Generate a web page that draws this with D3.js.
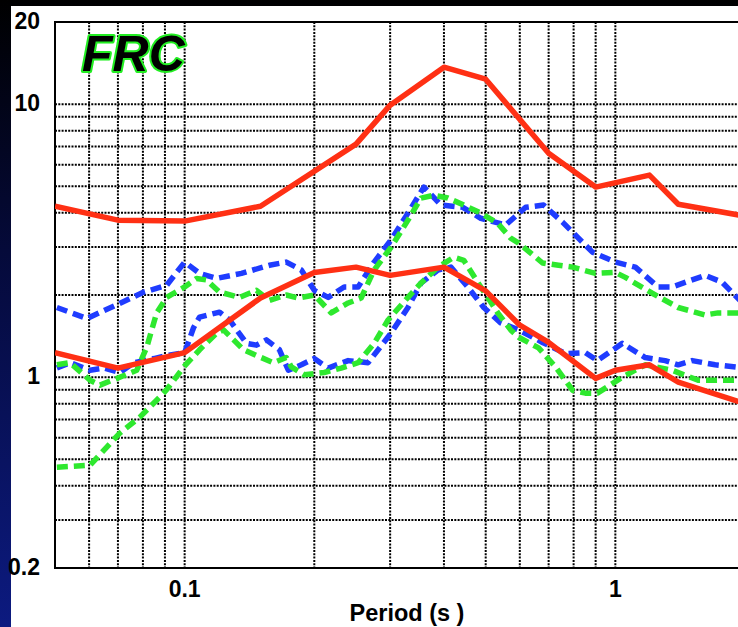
<!DOCTYPE html>
<html>
<head>
<meta charset="utf-8">
<script src="https://cdn.jsdelivr.net/npm/d3@7"></script>
<style>
  html, body { margin: 0; padding: 0; background: #000; }
  svg { display: block; }
</style>
</head>
<body>
<svg id="chart" width="738" height="627"></svg>
<script>
// ---------------- DATA ----------------
const titleText = "FRC";
const xAxisTitle = "Period (s )";
const xTickValues = [0.1, 1];
const xTickLabels = ["0.1", "1"];
const yTickValues = [20, 10, 1, 0.2];
const yTickLabels = ["20", "10", "1", "0.2"];
const xGridValues = [0.06, 0.07, 0.08, 0.09, 0.1, 0.2, 0.3, 0.4, 0.5, 0.6, 0.7, 0.8, 0.9, 1];
const yGridValues = [0.3, 0.4, 0.5, 0.6, 0.7, 0.8, 0.9, 1, 2, 3, 4, 5, 6, 7, 8, 9, 10];

const redUpperPeriod = [0.05, 0.07, 0.1, 0.15, 0.25, 0.3, 0.4, 0.5, 0.7, 0.9, 1.2, 1.4, 2.0];
const redUpperValue  = [4.23, 3.76, 3.73, 4.23, 7.14, 9.92, 13.66, 12.35, 6.61, 4.97, 5.50, 4.30, 3.89];

const redLowerPeriod = [0.05, 0.07, 0.1, 0.15, 0.2, 0.25, 0.3, 0.4, 0.5, 0.6, 0.7, 0.9, 1.0, 1.2, 1.4, 2.0];
const redLowerValue  = [1.23, 1.08, 1.23, 1.95, 2.42, 2.53, 2.36, 2.53, 2.07, 1.55, 1.34, 0.99, 1.06, 1.11, 0.96, 0.80];

const blueUpperPeriod = [0.0505, 0.0593, 0.07, 0.0804, 0.0908, 0.1, 0.1083, 0.1186, 0.1355, 0.1573, 0.1722, 0.1866, 0.2, 0.2154, 0.2346, 0.2528, 0.2754, 0.3014, 0.33, 0.3594, 0.3936, 0.4424, 0.487, 0.5566, 0.6191, 0.6813, 0.754, 0.8846, 1.0, 1.113, 1.257, 1.355, 1.616, 1.769, 2.0];
const blueUpperValue  = [1.80, 1.64, 1.85, 2.05, 2.17, 2.64, 2.40, 2.30, 2.40, 2.57, 2.64, 2.47, 2.08, 1.96, 2.14, 2.14, 2.64, 3.18, 3.99, 4.97, 4.27, 4.19, 3.82, 3.61, 4.19, 4.27, 3.70, 2.87, 2.64, 2.53, 2.14, 2.14, 2.36, 2.23, 1.83];

const blueLowerPeriod = [0.0505, 0.0542, 0.0603, 0.0649, 0.0707, 0.0762, 0.0848, 0.0908, 0.1, 0.1049, 0.1083, 0.1205, 0.1271, 0.1392, 0.1468, 0.1548, 0.166, 0.1741, 0.1866, 0.2, 0.2154, 0.2397, 0.2667, 0.3014, 0.33, 0.3537, 0.3873, 0.4151, 0.4544, 0.4948, 0.5419, 0.5965, 0.6776, 0.7662, 0.8522, 0.9086, 1.038, 1.173, 1.305, 1.399, 1.508, 1.705, 2.0];
const blueLowerValue  = [1.08, 1.13, 1.06, 1.08, 1.04, 1.13, 1.17, 1.20, 1.23, 1.52, 1.66, 1.73, 1.62, 1.33, 1.31, 1.37, 1.26, 1.06, 1.11, 1.17, 1.08, 1.15, 1.13, 1.45, 1.80, 2.21, 2.47, 2.53, 2.14, 1.80, 1.58, 1.49, 1.34, 1.22, 1.23, 1.15, 1.33, 1.18, 1.15, 1.11, 1.15, 1.11, 1.08];

const greenUpperPeriod = [0.0505, 0.0542, 0.0603, 0.0636, 0.0707, 0.0774, 0.0817, 0.0861, 0.0908, 0.1, 0.1066, 0.1124, 0.1205, 0.1341, 0.1468, 0.1573, 0.1722, 0.1836, 0.2, 0.2189, 0.2397, 0.2569, 0.2754, 0.3014, 0.33, 0.3537, 0.3791, 0.4085, 0.4447, 0.487, 0.5333, 0.5715, 0.5965, 0.6776, 0.7381, 0.7953, 0.899, 1.0, 1.055, 1.218, 1.399, 1.616, 1.732, 2.0];
const greenUpperValue  = [1.11, 1.13, 0.975, 0.935, 1.00, 1.06, 1.29, 1.72, 1.96, 2.14, 2.30, 2.27, 2.05, 1.96, 2.08, 1.91, 2.00, 1.95, 2.00, 1.72, 1.87, 1.95, 2.47, 2.99, 3.76, 4.53, 4.64, 4.53, 4.27, 3.99, 3.66, 3.23, 3.10, 2.62, 2.57, 2.53, 2.40, 2.42, 2.32, 2.03, 1.80, 1.69, 1.72, 1.72];

const greenLowerPeriod = [0.0505, 0.0603, 0.0707, 0.0787, 0.0875, 0.0908, 0.1, 0.1083, 0.1186, 0.1231, 0.1299, 0.137, 0.1468, 0.1607, 0.1722, 0.1769, 0.1896, 0.2109, 0.2309, 0.2528, 0.2754, 0.2967, 0.33, 0.3537, 0.3873, 0.4217, 0.4447, 0.487, 0.5333, 0.5715, 0.5965, 0.6634, 0.7263, 0.7953, 0.8522, 0.9086, 1.038, 1.173, 1.355, 1.556, 2.0];
const greenLowerValue  = [0.468, 0.476, 0.624, 0.714, 0.845, 0.90, 1.10, 1.26, 1.45, 1.49, 1.37, 1.26, 1.20, 1.13, 1.18, 1.09, 1.02, 1.04, 1.08, 1.13, 1.33, 1.62, 1.96, 2.21, 2.53, 2.75, 2.68, 2.14, 1.72, 1.49, 1.40, 1.28, 1.09, 0.896, 0.874, 0.874, 1.00, 1.11, 1.06, 0.975, 0.975];

// ---------------- DRAW ----------------
const W = 738, H = 627;
const plot = { left: 55, top: 22, right: 745, bottom: 568 };
const svg = d3.select("#chart");

const defs = svg.append("defs");
const grad = defs.append("linearGradient").attr("id", "bg").attr("x1", 0).attr("y1", 0).attr("x2", 0).attr("y2", 1);
grad.append("stop").attr("offset", "0%").attr("stop-color", "#000000");
grad.append("stop").attr("offset", "40%").attr("stop-color", "#050a3a");
grad.append("stop").attr("offset", "100%").attr("stop-color", "#0c1a80");

svg.append("rect").attr("width", W).attr("height", H).attr("fill", "url(#bg)");
svg.append("rect").attr("x", 11).attr("y", 6).attr("width", W - 11).attr("height", H - 6).attr("fill", "#ffffff");

const x = d3.scaleLog().domain([0.05, 2]).range([plot.left, plot.right]);
const y = d3.scaleLog().domain([0.2, 20]).range([plot.bottom, plot.top]);

const clip = defs.append("clipPath").attr("id", "plotclip");
clip.append("rect").attr("x", plot.left).attr("y", plot.top)
  .attr("width", plot.right - plot.left).attr("height", plot.bottom - plot.top);

// grid
const grid = svg.append("g").attr("stroke", "#000").attr("stroke-width", 2).attr("stroke-dasharray", "2,1.3");
grid.selectAll("line.v").data(xGridValues).enter().append("line")
  .attr("x1", d => x(d)).attr("x2", d => x(d)).attr("y1", plot.top).attr("y2", plot.bottom);
grid.selectAll("line.h").data(yGridValues).enter().append("line")
  .attr("y1", d => y(d)).attr("y2", d => y(d)).attr("x1", plot.left).attr("x2", plot.right);

// frame
svg.append("rect").attr("x", plot.left).attr("y", plot.top)
  .attr("width", plot.right - plot.left).attr("height", plot.bottom - plot.top)
  .attr("fill", "none").attr("stroke", "#000").attr("stroke-width", 2);

// series
const line = d3.line().x(d => x(d[0])).y(d => y(d[1]));
const zip = (p, v) => p.map((d, i) => [d, v[i]]);
const series = [
  { p: blueUpperPeriod, v: blueUpperValue, color: "#1f3cff", dash: "11,6" },
  { p: blueLowerPeriod, v: blueLowerValue, color: "#1f3cff", dash: "11,6" },
  { p: greenUpperPeriod, v: greenUpperValue, color: "#2ee82e", dash: "11,6" },
  { p: greenLowerPeriod, v: greenLowerValue, color: "#2ee82e", dash: "11,6" },
  { p: redUpperPeriod, v: redUpperValue, color: "#ff3014", dash: null },
  { p: redLowerPeriod, v: redLowerValue, color: "#ff3014", dash: null }
];
const lines = svg.append("g").attr("clip-path", "url(#plotclip)");
series.forEach(s => {
  lines.append("path").datum(zip(s.p, s.v))
    .attr("d", line).attr("fill", "none")
    .attr("stroke", s.color).attr("stroke-width", 5.5)
    .attr("stroke-linejoin", "round")
    .attr("stroke-dasharray", s.dash);
});

// tick labels
const labelFont = "'Liberation Sans', Arial, Helvetica, sans-serif";
svg.append("g").selectAll("text").data(yTickValues).enter().append("text")
  .attr("x", 40).attr("y", d => y(d) + 7)
  .attr("text-anchor", "end")
  .attr("font-family", labelFont).attr("font-weight", "bold").attr("font-size", 23)
  .attr("fill", "#000")
  .text((d, i) => yTickLabels[i]);

svg.append("g").selectAll("text").data(xTickValues).enter().append("text")
  .attr("x", d => x(d)).attr("y", 597)
  .attr("text-anchor", "middle")
  .attr("font-family", labelFont).attr("font-weight", "bold").attr("font-size", 23)
  .attr("fill", "#000")
  .text((d, i) => xTickLabels[i]);

svg.append("text")
  .attr("x", 407).attr("y", 621)
  .attr("text-anchor", "middle")
  .attr("font-family", labelFont).attr("font-weight", "bold").attr("font-size", 23.5)
  .attr("fill", "#000")
  .text(xAxisTitle);

// title
svg.append("text")
  .attr("x", 82).attr("y", 71)
  .attr("font-family", labelFont).attr("font-weight", "bold").attr("font-style", "italic")
  .attr("font-size", 50)
  .attr("fill", "#000").attr("stroke", "#22ee22").attr("stroke-width", 4)
  .attr("paint-order", "stroke")
  .attr("stroke-linejoin", "round")
  .text(titleText);
</script>
</body>
</html>
